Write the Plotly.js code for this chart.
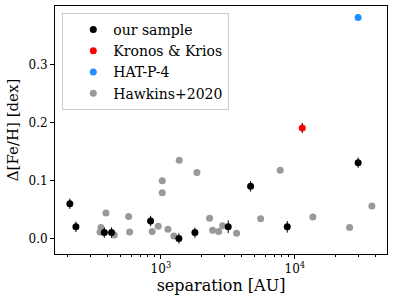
<!DOCTYPE html>
<html><head><meta charset="utf-8">
<script src="https://cdn.plot.ly/plotly-3.0.1.min.js"></script>
<style>html,body{margin:0;padding:0;background:#fff}#c{width:394px;height:302px}</style>
</head><body><div id="c"></div>
<script>
// our sample
const oursSep = [209, 232, 378, 428, 838, 1362, 1794, 3180, 4670, 8770, 29650];
const oursFeH = [0.060, 0.020, 0.010, 0.010, 0.030, 0.000, 0.010, 0.020, 0.090, 0.020, 0.131];
const oursErr = [0.009, 0.009, 0.009, 0.009, 0.009, 0.009, 0.009, 0.011, 0.009, 0.010, 0.009];
// Kronos & Krios
const kkSep = [11350];
const kkFeH = [0.191];
const kkErr = [0.009];
// HAT-P-4
const hatSep = [29650];
const hatFeH = [0.382];
// Hawkins+2020
const hawSep = [357, 351, 389, 449, 574, 584, 861, 955, 1023, 1023, 1128, 1250, 1370, 1857, 2309, 2430, 2697, 2886, 3672, 5550, 7770, 13620, 25600, 37550];
const hawFeH = [0.019, 0.011, 0.044, 0.006, 0.038, 0.011, 0.012, 0.021, 0.0995, 0.079, 0.016, 0.004, 0.135, 0.114, 0.035, 0.014, 0.012, 0.022, 0.009, 0.034, 0.118, 0.037, 0.019, 0.056];

const minorVals = [];
[100, 1000, 10000].forEach(d => { for (let k = 2; k <= 9; k++) minorVals.push(k * d); });

const font = {family: 'DejaVu Serif', color: '#000'};
const traces = [
  {x: hawSep, y: hawFeH, type: 'scatter', mode: 'markers', name: 'Hawkins+2020', legendrank: 4,
   marker: {color: '#999999', size: 7}},
  {x: oursSep, y: oursFeH, type: 'scatter', mode: 'markers', name: 'our sample', legendrank: 1,
   marker: {color: '#000000', size: 7},
   error_y: {type: 'data', array: oursErr, color: '#000', thickness: 1, width: 0}},
  {x: kkSep, y: kkFeH, type: 'scatter', mode: 'markers', name: 'Kronos & Krios', legendrank: 2,
   marker: {color: '#ff0000', size: 7},
   error_y: {type: 'data', array: kkErr, color: '#000', thickness: 1, width: 0}},
  {x: hatSep, y: hatFeH, type: 'scatter', mode: 'markers', name: 'HAT-P-4', legendrank: 3,
   marker: {color: '#1e90ff', size: 7}}
];

const layout = {
  width: 394, height: 302,
  margin: {l: 55, r: 7, t: 6, b: 48},
  paper_bgcolor: '#fff', plot_bgcolor: '#fff',
  font: Object.assign({size: 12}, font),
  showlegend: true,
  legend: {x: 0.022, y: 0.972, xanchor: 'left', yanchor: 'top',
    bgcolor: 'rgba(255,255,255,0.8)', bordercolor: '#cccccc', borderwidth: 1,
    font: Object.assign({size: 14}, font), itemwidth: 30, indentation: 10, tracegroupgap: 0},
  xaxis: {type: 'log', range: [Math.log10(162), Math.log10(48700)],
    showline: true, linecolor: '#000', linewidth: 1, mirror: true,
    showgrid: false, zeroline: false,
    ticks: 'outside', ticklen: 4, tickcolor: '#000',
    tickvals: [1000, 10000], ticktext: ['10<sup>3</sup>', '10<sup>4</sup>'],
    tickfont: Object.assign({size: 12}, font),
    minor: {ticks: 'outside', ticklen: 2, tickcolor: '#000', tickvals: minorVals, showgrid: false},
    title: {text: 'separation [AU]', font: Object.assign({size: 16}, font), standoff: 3}},
  yaxis: {range: [-0.027, 0.402],
    showline: true, linecolor: '#000', linewidth: 1, mirror: true,
    showgrid: false, zeroline: false,
    ticks: 'outside', ticklen: 4, tickcolor: '#000',
    tickvals: [0, 0.1, 0.2, 0.3], ticktext: ['0.0', '0.1', '0.2', '0.3'],
    tickfont: Object.assign({size: 12}, font),
    title: {text: 'Δ[Fe/H] [dex]', font: Object.assign({size: 15}, font), standoff: 6}}
};
Plotly.newPlot('c', traces, layout, {displayModeBar: false, staticPlot: true});
</script></body></html>
